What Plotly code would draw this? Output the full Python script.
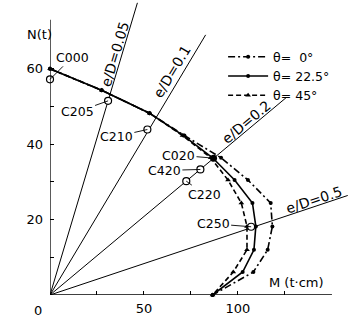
import math
import plotly.graph_objects as go

# ---------------- data ----------------
N_levels = [60, 54.3, 48.2, 42.3, 36.4, 30.5, 24.4, 18.2, 12.0, 6.1, 0]
M_theta0 = [0, 27.5, 53, 71.5, 91, 105.3, 117.4, 118.3, 115.8, 108.2, 86.5]
M_theta22 = [0, 27.5, 53, 71, 86.5, 98.2, 107.7, 109.5, 108.5, 102.5, 86.5]
M_theta45 = [0, 27.5, 53, 70.5, 85.5, 94.7, 101.8, 104.8, 104.8, 97.5, 86.5]
series_names = ["θ=\u00a0\u00a00°", "θ= 22.5°", "θ= 45°"]

D_cm = 12.0
eD_values = [0.05, 0.1, 0.2, 0.5]
eD_labels = ["e/D=0.05", "e/D=0.1", "e/D=0.2", "e/D=0.5"]
eD_N_end = [77.5, 69.0, 52.3, 26.4]

spec_labels = ["C000", "C205", "C210", "C420", "C220", "C250"]
spec_M = [0, 30.9, 51.8, 80.0, 72.5, 107.0]
spec_N = [57.2, 51.5, 43.9, 33.3, 30.2, 18.1]
c020_M = [87.0]
c020_N = [36.3]

x_ticks = [25, 50, 75, 100, 125]
x_ticktext = ["", "50", "", "100", ""]
y_ticks = [10, 20, 30, 40, 50, 60]
y_ticktext = ["", "20", "", "40", "", "60"]

# ---------------- layout geometry ----------------
W, H = 350, 318
L, R, T, B = 50, 0, 0, 23
XR = [0, 159.6]
YR = [0, 78.25]
pw, ph = W - L - R, H - T - B
sx = pw / (XR[1] - XR[0])
sy = ph / (YR[1] - YR[0])

FONT = "DejaVu Sans"
fig = go.Figure()

for ed, nend in zip(eD_values, eD_N_end):
    k = ed * D_cm
    fig.add_trace(go.Scatter(x=[0, k * nend], y=[0, nend], mode="lines",
                             line=dict(color="black", width=1), showlegend=False,
                             hoverinfo="skip", cliponaxis=False))

styles = [
    dict(dash="7px,3px,2px,3px", symbol="circle", size=4),
    dict(dash="solid", symbol="circle", size=4),
    dict(dash="5px,3px", symbol="triangle-up", size=5),
]
for name, M, st in zip(series_names, [M_theta0, M_theta22, M_theta45], styles):
    fig.add_trace(go.Scatter(x=M, y=N_levels, mode="lines+markers", name=name,
                             line=dict(color="black", width=1.6, dash=st["dash"]),
                             marker=dict(color="black", size=st["size"], symbol=st["symbol"]),
                             cliponaxis=False))

fig.add_trace(go.Scatter(x=spec_M, y=spec_N, mode="markers", showlegend=False,
                         marker=dict(color="white", size=7, symbol="circle",
                                     line=dict(color="black", width=1.2)),
                         cliponaxis=False))
fig.add_trace(go.Scatter(x=c020_M, y=c020_N, mode="markers", showlegend=False,
                         marker=dict(color="black", size=7, symbol="circle"),
                         cliponaxis=False))

annotations = []
offsets = {"C000": (22, -22), "C205": (-31, 11), "C210": (-31, 7),
           "C420": (-36, 1), "C220": (18, 13), "C250": (-38, -3)}
for lab, m, n in zip(spec_labels, spec_M, spec_N):
    ax, ay = offsets[lab]
    annotations.append(dict(x=m, y=n, xref="x", yref="y", text=lab, showarrow=True,
                            arrowhead=0, arrowwidth=0.9, arrowcolor="black",
                            ax=ax, ay=ay, font=dict(family=FONT, size=12.5, color="black")))
annotations.append(dict(x=c020_M[0], y=c020_N[0], xref="x", yref="y", text="C020",
                        showarrow=True, arrowhead=0, arrowwidth=0.9, arrowcolor="black",
                        ax=-35, ay=-3, font=dict(family=FONT, size=12.5, color="black")))

label_pos = [(34.5, 64.0), (64.7, 59.2), (104.4, 46.0), (140.3, 25.2)]
for ed, lab, (lx, ly) in zip(eD_values, eD_labels, label_pos):
    k = ed * D_cm
    ang = math.degrees(math.atan2(sy, k * sx))
    annotations.append(dict(x=lx, y=ly, xref="x", yref="y", text=lab, showarrow=False,
                            textangle=-ang, font=dict(family=FONT, size=14, color="black")))

annotations.append(dict(x=0, y=YR[1], xref="x", yref="y", text="N(t)", showarrow=False,
                        xshift=-11, yshift=-34, font=dict(family=FONT, size=13, color="black")))
annotations.append(dict(x=131, y=0, xref="x", yref="y", text="M (t·cm)", showarrow=False,
                        yshift=13, font=dict(family=FONT, size=13, color="black")))
annotations.append(dict(x=0, y=0, xref="x", yref="y", text="0", showarrow=False,
                        xshift=-12, yshift=-15, font=dict(family=FONT, size=13, color="black")))

shapes = [
    dict(type="line", xref="x", yref="y", x0=0, y0=0, x1=150, y1=0,
         line=dict(color="black", width=1.3)),
    dict(type="line", xref="x", yref="y", x0=0, y0=0, x1=0, y1=73,
         line=dict(color="black", width=1.3)),
]

fig.update_layout(
    width=W, height=H, margin=dict(l=L, r=R, t=T, b=B, autoexpand=False),
    paper_bgcolor="white", plot_bgcolor="white",
    font=dict(family=FONT, size=13, color="black"),
    xaxis=dict(range=XR, showgrid=False, zeroline=False, showline=False,
               tickvals=x_ticks, ticktext=x_ticktext, ticks="inside", ticklen=4,
               tickwidth=1, tickcolor="black", ticklabelstandoff=4,
               tickfont=dict(family=FONT, size=13, color="black")),
    yaxis=dict(range=YR, showgrid=False, zeroline=False, showline=False,
               tickvals=y_ticks, ticktext=y_ticktext, ticks="inside", ticklen=4,
               tickwidth=1, tickcolor="black", ticklabelstandoff=6,
               tickfont=dict(family=FONT, size=13, color="black")),
    legend=dict(x=0.577, y=0.857, xanchor="left", yanchor="top",
                bgcolor="rgba(0,0,0,0)", font=dict(family=FONT, size=12.5, color="black"),
                itemwidth=40, tracegroupgap=0),
    annotations=annotations, shapes=shapes,
)

fig.write_html("out.html", config={"displayModeBar": False},
               post_script="document.body.style.margin='0px';document.body.style.overflow='hidden';")
